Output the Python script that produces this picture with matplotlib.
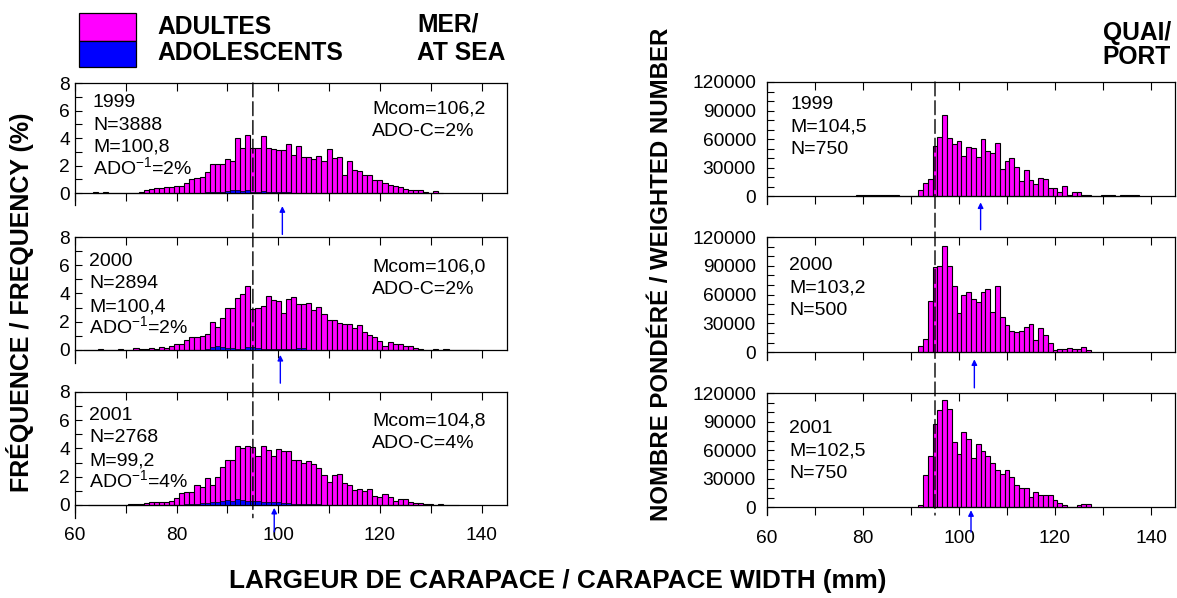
import numpy as np
import matplotlib
matplotlib.use('Agg')
import matplotlib.pyplot as plt
from matplotlib.patches import Rectangle, ConnectionPatch
from matplotlib.ticker import MultipleLocator

plt.rcParams['font.family'] = ['Liberation Sans', 'DejaVu Sans']
plt.rcParams['mathtext.default'] = 'regular'

MAGENTA = '#ff00ff'
BLUE = '#0000ff'

years = ['1999', '2000', '2001']

# At sea: frequency (%) per 1 mm carapace-width class, all crabs
sea_start = [64, 62, 63]
sea_1999 = [0.08, 0, 0.05, 0, 0, 0, 0.02, 0.03, 0.03, 0.05,
            0.2, 0.3, 0.35, 0.35, 0.45, 0.45, 0.5, 0.5, 0.7, 1.0,
            1.1, 1.15, 1.55, 2.15, 2.1, 2.1, 2.45, 2.3, 4.0, 3.25,
            4.25, 3.25, 3.3, 4.15, 3.3, 3.2, 3.1, 3.1, 3.55, 2.8,
            3.45, 2.65, 2.6, 2.5, 2.7, 2.35, 3.2, 2.55, 2.65, 1.3,
            2.35, 1.7, 1.6, 1.3, 1.35, 0.95, 0.95, 0.7, 0.6, 0.55,
            0.45, 0.3, 0.2, 0.25, 0.25, 0.1, 0.0, 0.15, 0.03]
sea_2000 = [0.03, 0.03, 0, 0.05, 0, 0, 0, 0.08, 0, 0,
            0.15, 0.1, 0.1, 0.12, 0.05, 0.2, 0.15, 0.3, 0.45, 0.4,
            0.7, 0.95, 0.95, 1.0, 1.15, 1.95, 1.6, 2.3, 2.95, 2.95,
            3.7, 3.95, 4.55, 2.9, 3.0, 3.1, 3.85, 3.55, 3.45, 2.65,
            3.6, 3.75, 3.25, 3.25, 3.3, 2.85, 3.05, 2.55, 2.1, 2.1,
            1.9, 1.85, 1.85, 1.55, 1.8, 1.3, 1.05, 0.95, 0.65, 0.25,
            0.55, 0.4, 0.4, 0.3, 0.3, 0.12, 0.05, 0.03, 0, 0.1,
            0, 0.05, 0, 0, 0, 0, 0, 0.03]
sea_2001 = [0.03, 0, 0, 0, 0, 0, 0, 0.03, 0.05, 0.05,
            0.1, 0.15, 0.2, 0.2, 0.2, 0.2, 0.3, 0.5, 0.85, 0.9,
            0.9, 1.4, 1.3, 1.9, 1.45, 1.95, 2.7, 3.2, 3.2, 4.15,
            4.05, 4.2, 4.1, 3.5, 4.15, 3.9, 3.5, 3.95, 3.8, 3.8,
            3.2, 3.15, 2.95, 3.1, 2.9, 2.65, 2.1, 1.65, 2.15, 2.2,
            1.55, 1.4, 1.05, 1.15, 1.0, 1.1, 0.65, 0.55, 0.75, 0.6,
            0.3, 0.45, 0.45, 0.2, 0.15, 0.15, 0.05, 0.05, 0, 0.05,
            0, 0, 0.03]

# At sea: adolescents only (%)
ado_start = [86, 86, 82]
ado_1999 = [0.05, 0.1, 0.1, 0.1, 0.15, 0.2, 0.25, 0.15, 0.2, 0.1,
            0.1, 0.15, 0.1, 0.1, 0.08, 0.05, 0.05]
ado_2000 = [0.1, 0.2, 0.25, 0.2, 0.15, 0.15, 0.1, 0.1, 0.2, 0.2,
            0.15, 0.1, 0.05, 0.1, 0.05, 0.05, 0.1, 0.1, 0.15, 0.15]
ado_2001 = [0.05, 0.1, 0.1, 0.15, 0.15, 0.2, 0.2, 0.3, 0.35, 0.3,
            0.4, 0.35, 0.3, 0.3, 0.25, 0.2, 0.2, 0.2, 0.2, 0.15,
            0.15, 0.1, 0.1, 0.1, 0.05, 0.05, 0.05]

# Port sampling: weighted numbers per 1 mm class
port_start = [79, 92, 92]
port_1999 = [1000, 1000, 1000, 1000, 1000, 1000, 1000, 1000, 1000, 0,
             0, 0, 0, 7000, 14000, 18000, 53000, 62000, 85000, 61000,
             55000, 58000, 42000, 51500, 51000, 41000, 60000, 47500, 46000, 56500,
             29000, 37500, 40000, 30500, 16000, 28000, 17500, 13500, 19500, 18500,
             9000, 8500, 4500, 11000, 1800, 4500, 4500, 1800, 1800, 700,
             0, 1000, 1000, 1000, 0, 1800, 1800, 1800, 1800]
port_2000 = [7000, 14000, 53500, 89000, 89500, 111000, 89500, 68500, 40700, 60000,
             62500, 55000, 52000, 62500, 66000, 41500, 69500, 36500, 28500, 22500,
             21500, 22500, 26000, 29000, 13000, 25000, 17500, 9500, 2500, 3000,
             3000, 5000, 3000, 3000, 6000, 2000]
port_2001 = [3000, 34000, 53500, 87000, 102500, 113000, 103000, 68500, 56000, 79000,
             71500, 52000, 67000, 59000, 53500, 47000, 39000, 35500, 39000, 32000,
             24000, 20500, 20500, 11000, 16000, 12500, 13000, 13000, 8000, 5000,
             2000, 0, 0, 2000, 4000, 4000]

sea_n = [3888, 2894, 2768]
sea_mean = [100.8, 100.4, 99.2]
sea_ado = [2, 2, 4]
sea_mcom = [106.2, 106.0, 104.8]
sea_adoc = [2, 2, 4]
port_mean = [104.5, 103.2, 102.5]
port_n = [750, 500, 750]

size_limit = 95  # legal minimum carapace width (mm)


def comma(v):
    return f'{v:.1f}'.replace('.', ',')


W, H = 1177, 598
PT = 0.72  # points per pixel at 100 dpi
fig = plt.figure(figsize=(W / 100, H / 100), dpi=100)


def add_px_axes(x0, y0, x1, y1):
    return fig.add_axes([x0 / W, 1 - y1 / H, (x1 - x0) / W, (y1 - y0) / H])


def style_axes(ax, ymin, ymax, ymajor, yminor, bottom_labels):
    ax.set_xlim(60, 145)
    ax.set_ylim(ymin, ymax)
    ax.spines['bottom'].set_position(('data', 0))
    ax.spines['top'].set_visible(False)
    ax.spines['right'].set_bounds(0, ymax)
    for s in ax.spines.values():
        s.set_linewidth(0.9)
    ax.xaxis.set_major_locator(MultipleLocator(20))
    ax.xaxis.set_minor_locator(MultipleLocator(10))
    ax.yaxis.set_major_locator(MultipleLocator(ymajor))
    ax.yaxis.set_minor_locator(MultipleLocator(yminor))
    ax.set_yticks([t for t in ax.get_yticks() if 0 <= t <= ymax])
    ax.tick_params(axis='x', which='both', direction='out', length=5.5, width=0.8,
                   labelsize=13.8, pad=10.5, labelbottom=bottom_labels)
    ax.tick_params(axis='y', which='both', direction='in', length=5, width=0.8,
                   labelsize=13.8, right=False)
    top = ax.secondary_xaxis('top')
    top.xaxis.set_major_locator(MultipleLocator(10))
    top.tick_params(direction='in', length=5.5, width=0.8, labeltop=False)
    top.spines['top'].set_linewidth(0.9)


def text_block(ax, lines, anchor_x, dx_px, first_px, ha):
    # one annotation per line, 22.5 px apart, baselines measured from the axes top
    for k, line in enumerate(lines):
        ax.annotate(line, xy=(anchor_x, 1), xycoords='axes fraction',
                    xytext=(dx_px * PT, -(first_px + 22.5 * k) * PT),
                    textcoords='offset points', ha=ha, va='baseline', fontsize=14)


left_boxes = [(75, 83, 507, 205.5), (75, 237, 507, 362.7), (75, 392, 507, 517.7)]
right_boxes = [(767, 82, 1175, 204), (767, 237, 1175, 360), (767, 393, 1175, 515)]

sea_totals = [sea_1999, sea_2000, sea_2001]
ado_series = [ado_1999, ado_2000, ado_2001]
port_series = [port_1999, port_2000, port_2001]

# text block placement (px): left inset, first baseline below the top
year_place = [(18, 24), (14, 29), (14, 28)]
mcom_place = [(297, 31), (297, 34), (297, 34)]
port_place = [(23, 27), (22, 33), (22, 40)]
sea_arrows = [(-0.95, -3.0), (-0.35, -2.35), (-0.2, -1.9)]
port_arrows = [(-6300, -35000), (-7300, -37000), (-3000, -26000)]

left_axes, right_axes = [], []
for i in range(3):
    ax = add_px_axes(*left_boxes[i])
    style_axes(ax, -0.9, 8, 2, 1, i == 2)
    x = sea_start[i] + np.arange(len(sea_totals[i]))
    ax.bar(x, sea_totals[i], width=1, color=MAGENTA, edgecolor='black', linewidth=0.8)
    xa = ado_start[i] + np.arange(len(ado_series[i]))
    ax.bar(xa, ado_series[i], width=1, color=BLUE, edgecolor='black', linewidth=0.5)
    text_block(ax, [years[i], f'N={sea_n[i]}', f'M={comma(sea_mean[i])}',
                    f'ADO$^{{-1}}$={sea_ado[i]}%'], 0, *year_place[i], 'left')
    text_block(ax, [f'Mcom={comma(sea_mcom[i])}', f'ADO-C={sea_adoc[i]}%'],
               0, *mcom_place[i], 'left')
    tip, tail = sea_arrows[i]
    ax.annotate('', xy=(sea_mean[i], tip), xytext=(sea_mean[i], tail),
                annotation_clip=False,
                arrowprops=dict(arrowstyle='-|>', color=BLUE, lw=1, mutation_scale=8,
                                shrinkA=0, shrinkB=0))
    left_axes.append(ax)

for i in range(3):
    ax = add_px_axes(*right_boxes[i])
    style_axes(ax, -8000, 120000, 30000, 10000, i == 2)
    x = port_start[i] + np.arange(len(port_series[i]))
    ax.bar(x, port_series[i], width=1, color=MAGENTA, edgecolor='black', linewidth=0.8)
    ax.yaxis.set_tick_params(pad=8)
    text_block(ax, [years[i], f'M={comma(port_mean[i])}', f'N={port_n[i]}'],
               0, *port_place[i], 'left')
    tip, tail = port_arrows[i]
    ax.annotate('', xy=(port_mean[i], tip), xytext=(port_mean[i], tail),
                annotation_clip=False,
                arrowprops=dict(arrowstyle='-|>', color=BLUE, lw=1, mutation_scale=8,
                                shrinkA=0, shrinkB=0))
    right_axes.append(ax)

# minimum legal size, drawn through the three panels of each column
for col, ytop, ybot in [(left_axes, 8, -0.9), (right_axes, 120000, -8000)]:
    con = ConnectionPatch(xyA=(size_limit, ytop), coordsA=col[0].transData,
                          xyB=(size_limit, ybot), coordsB=col[2].transData,
                          color='black', lw=1, linestyle=(0, (10, 3.5)))
    fig.add_artist(con)

# legend boxes
fig.add_artist(Rectangle((79 / W, 1 - 41 / H), 57 / W, 28 / H, transform=fig.transFigure,
                         facecolor=MAGENTA, edgecolor='black', lw=0.9))
fig.add_artist(Rectangle((79 / W, 1 - 67 / H), 57 / W, 26 / H, transform=fig.transFigure,
                         facecolor=BLUE, edgecolor='black', lw=0.9))
bold = dict(fontweight='bold', fontsize=17.7)
fig.text(157 / W, 1 - 27 / H, 'ADULTES', ha='left', va='center', **bold)
fig.text(157 / W, 1 - 53 / H, 'ADOLESCENTS', ha='left', va='center', **bold)
fig.text(417 / W, 1 - 25 / H, 'MER/', ha='left', va='center', **bold)
fig.text(417 / W, 1 - 53 / H, 'AT SEA', ha='left', va='center', **bold)
fig.text(1171 / W, 1 - 33 / H, 'QUAI/', ha='right', va='center', **bold)
fig.text(1171 / W, 1 - 57 / H, 'PORT', ha='right', va='center', **bold)

fig.text(20 / W, 1 - 302 / H, 'FRÉQUENCE / FREQUENCY (%)', rotation=90,
         ha='center', va='center', fontweight='bold', fontsize=18)
fig.text(662 / W, 1 - 274 / H, 'NOMBRE PONDÉRÉ / WEIGHTED NUMBER', rotation=90,
         ha='center', va='center', fontweight='bold', fontsize=17.3)
fig.text(558 / W, 1 - 581 / H, 'LARGEUR DE CARAPACE / CARAPACE WIDTH (mm)',
         ha='center', va='center', fontweight='bold', fontsize=18.8)

fig.savefig('out.png', dpi=100)
